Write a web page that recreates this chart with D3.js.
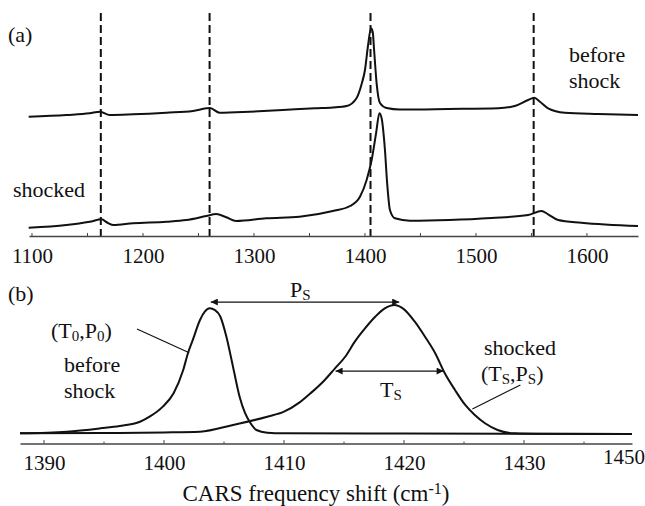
<!DOCTYPE html>
<html><head><meta charset="utf-8">
<script src="https://cdn.jsdelivr.net/npm/d3@7"></script>
</head>
<body style="margin:0">
<svg id="chart" width="645" height="506"></svg>
<script>
// ---------- Panel (a): wide-range CARS spectra ----------
const freqA_before = [1097,1131,1152,1161.3,1170,1191,1221,1245,1257,1260.4,1269,1296,1326,1355,1371,1383.5,1392.5,1397,1400,1402.7,1405.4,1407,1408.1,1410.5,1413.5,1419.5,1431.5,1475,1520,1535,1547,1552.5,1557.7,1565,1580,1610,1646];
const sigA_before  = [119.3,121,122.7,124.3,121,121.7,123.3,125,127.7,128,123.3,124.3,126,127.7,128.5,130,138,152,166,190,207.7,204,188,152.7,133,128,126.5,127,127.7,130,136,138.3,134.3,127.7,123.3,122,121];
const freqA_shocked = [1097,1131,1152,1162.8,1167,1173,1191,1221,1239,1257,1266,1275,1284,1311,1341,1371,1386.5,1395.5,1401.5,1406,1410,1413,1415,1418,1420,1422.5,1427,1440.5,1476,1514,1547,1559,1565,1574,1595,1646];
const sigA_shocked  = [8.3,11,14.3,16.7,14,11,12.7,14.3,16,20,22,18.7,15,17.7,19.3,25,30,39.3,56,76,102.7,122.7,117.7,86,52.7,26,17.7,15.3,16,18,21,25,21.7,16,13.3,10];
const dashedFreqs = [1162, 1260, 1405, 1552];
const ticksA = [1100, 1200, 1300, 1400, 1500, 1600];
const minorTicksA = [1150, 1250, 1350, 1450, 1550];

// ---------- Panel (b): N2 Q-branch detail ----------
const freqB_before = [1388,1391.9,1394.7,1396.3,1398,1398.8,1399.9,1400.8,1401.6,1402,1402.4,1403,1403.4,1403.8,1404.25,1404.7,1405.2,1405.75,1406.3,1406.75,1407.2,1407.7,1408.6,1410,1420,1439];
const intB_before  = [0.5,1.8,4.4,6.2,9.5,13.4,21.2,31.6,49.6,62.8,72.9,88.4,94.8,97.4,96.1,90.9,75.4,52.2,28.9,16.3,8.5,3.1,1.0,0.5,0.3,0];
const freqB_shocked = [1388,1395,1400,1403,1405.75,1408.6,1410,1411.3,1412.2,1413.4,1414.25,1415.1,1415.9,1416.75,1417.6,1418.4,1419.2,1419.9,1420.9,1421.75,1422.6,1423.4,1424.25,1425.1,1425.9,1426.75,1427.8,1429.25,1431,1439];
const intB_shocked  = [0.5,0.8,1.2,1.8,7.0,13.4,17.3,24.5,31.5,41.9,50.9,59.9,71.6,81.9,90.9,97.4,100,97.4,87.1,75.4,62.6,47.1,34.1,22.5,14.7,8.3,3.1,0.5,0.2,0];
const ticksB = [1390, 1400, 1410, 1420, 1430];
const tickLabelsB = ["1390", "1400", "1410", "1420", "1430"];
const minorTicksB = [1395, 1405, 1415, 1425, 1435];
const endLabelB = "1450";
// annotation arrows (data units)
const arrowPs = {from: 1403.9, to: 1419.6, level: 102.3};
const arrowTs = {from: 1414.3, to: 1423.3, level: 48.8};
const leaderBefore = [[1397.75, 81.4], [1402.1, 63.0]];
const leaderShocked = [[1429.7, 38.0], [1425.7, 19.4]];

const SERIF = "Liberation Serif";
const svg = d3.select("#chart");
const FS = 22;   // annotation size
const TS = 21;   // tick label size
const INK = "#111";

// defs: arrowheads
const defs = svg.append("defs");
function marker(id, orient){
  defs.append("marker").attr("id", id).attr("viewBox","0 0 10 10")
    .attr("refX", 10).attr("refY", 5).attr("markerWidth", 11).attr("markerHeight", 7)
    .attr("markerUnits","userSpaceOnUse").attr("orient", orient)
    .append("path").attr("d","M0,0 L10,5 L0,10 Z").attr("fill", INK);
}
marker("arrEnd","auto");
marker("arrStart","auto-start-reverse");

function txt(g, x, y, s, size){
  return g.append("text").attr("x", x).attr("y", y).attr("font-size", size || FS)
    .attr("font-family", SERIF).attr("fill", INK).text(s);
}

// ===== Panel (a) =====
const xA = d3.scaleLinear().domain([1097.3, 1646]).range([29, 638]);
const yA = d3.scaleLinear().domain([0, 216]).range([236, 20]);
const gA = svg.append("g");
const lineA = d3.line().x(d => xA(d[0])).y(d => yA(d[1])).curve(d3.curveMonotoneX);

gA.append("path").datum(d3.zip(freqA_before, sigA_before)).attr("d", lineA)
  .attr("fill","none").attr("stroke", INK).attr("stroke-width",2);
gA.append("path").datum(d3.zip(freqA_shocked, sigA_shocked)).attr("d", lineA)
  .attr("fill","none").attr("stroke", INK).attr("stroke-width",2);

gA.selectAll("line.dash").data(dashedFreqs).enter().append("line")
  .attr("x1", d => xA(d)).attr("x2", d => xA(d))
  .attr("y1", yA(223)).attr("y2", yA(0))
  .attr("stroke", INK).attr("stroke-width",2).attr("stroke-dasharray","8,4");

// axis (a)
const axA = d3.axisBottom(xA).tickValues(ticksA).tickSize(0).tickPadding(0).tickFormat(d3.format("d"));
const axAg = gA.append("g").attr("transform", `translate(0,${yA(0)})`).call(axA);
axAg.attr("font-family", SERIF).attr("font-size", TS);
axAg.select(".domain").attr("stroke","#444").attr("stroke-width",1.5);
axAg.selectAll("text").attr("font-size", TS).attr("fill", INK)
  .attr("font-family", SERIF).attr("dy", null).attr("y", 27);
gA.selectAll("line.mt").data(ticksA.concat(minorTicksA)).enter().append("line")
  .attr("x1", d => xA(d)).attr("x2", d => xA(d)).attr("y1", yA(0)).attr("y2", yA(0) - 3)
  .attr("stroke","#444").attr("stroke-width",1);

txt(gA, 8, 42, "(a)");
txt(gA, 13, 197, "shocked");
txt(gA, 569, 62, "before");
txt(gA, 569, 88, "shock");

// ===== Panel (b) =====
const xB = d3.scaleLinear().domain([1388, 1439]).range([20, 632]);
const yB = d3.scaleLinear().domain([0, 100]).range([434, 305]);
const gB = svg.append("g");
const lineB = d3.line().x(d => xB(d[0])).y(d => yB(d[1])).curve(d3.curveMonotoneX);

gB.append("path").datum(d3.zip(freqB_before, intB_before)).attr("d", lineB)
  .attr("fill","none").attr("stroke", INK).attr("stroke-width",2);
gB.append("path").datum(d3.zip(freqB_shocked, intB_shocked)).attr("d", lineB)
  .attr("fill","none").attr("stroke", INK).attr("stroke-width",2);

const axisYB = 443.5;
const axB = d3.axisBottom(xB).tickValues(ticksB).tickSize(0).tickPadding(0)
  .tickFormat((d,i) => tickLabelsB[i]);
const axBg = gB.append("g").attr("transform", `translate(0,${axisYB})`).call(axB);
axBg.attr("font-family", SERIF).attr("font-size", TS);
axBg.select(".domain").attr("stroke","#444").attr("stroke-width",1.5);
axBg.selectAll("text").attr("font-size", TS).attr("fill", INK)
  .attr("font-family", SERIF).attr("dy", null).attr("y", 26);
gB.selectAll("line.mjt").data(ticksB).enter().append("line")
  .attr("x1", d => xB(d)).attr("x2", d => xB(d)).attr("y1", axisYB).attr("y2", axisYB - 3.5)
  .attr("stroke","#444").attr("stroke-width",1);
gB.selectAll("line.mnt").data(minorTicksB).enter().append("line")
  .attr("x1", d => xB(d)).attr("x2", d => xB(d)).attr("y1", axisYB).attr("y2", axisYB - 2)
  .attr("stroke","#444").attr("stroke-width",1);
txt(gB, xB(xB.domain()[1]) - 8, axisYB + 20, endLabelB, TS).attr("text-anchor","middle");

// arrows
[arrowPs, arrowTs].forEach(a => {
  gB.append("line").attr("x1", xB(a.from)).attr("x2", xB(a.to))
    .attr("y1", yB(a.level)).attr("y2", yB(a.level))
    .attr("stroke", INK).attr("stroke-width",1.3)
    .attr("marker-start","url(#arrStart)").attr("marker-end","url(#arrEnd)");
});
// leader lines
[leaderBefore, leaderShocked].forEach(l => {
  gB.append("line").attr("x1", xB(l[0][0])).attr("y1", yB(l[0][1]))
    .attr("x2", xB(l[1][0])).attr("y2", yB(l[1][1]))
    .attr("stroke", INK).attr("stroke-width",1.2);
});

// text with subscripts
function subText(g, x, y, parts){
  const t = g.append("text").attr("x", x).attr("y", y).attr("font-size", FS)
    .attr("font-family", SERIF).attr("fill", INK);
  let shifted = false;
  parts.forEach(p => {
    const ts = t.append("tspan").text(p.t);
    if (p.sub) { ts.attr("font-size", 15).attr("dy", 3); shifted = true; }
    else if (shifted) { ts.attr("dy", -3); shifted = false; }
  });
  return t;
}
txt(gB, 8, 301, "(b)");
subText(gB, 51, 338, [{t:"(T"},{t:"0",sub:true},{t:",P"},{t:"0",sub:true},{t:")"}]);
txt(gB, 64, 372, "before");
txt(gB, 64, 398, "shock");
subText(gB, 290, 297, [{t:"P"},{t:"S",sub:true}]);
subText(gB, 380, 397, [{t:"T"},{t:"S",sub:true}]);
txt(gB, 484, 355, "shocked");
subText(gB, 481, 381, [{t:"(T"},{t:"S",sub:true},{t:",P"},{t:"S",sub:true},{t:")"}]);

// x-axis title
const title = gB.append("text").attr("x", 316).attr("y", 501).attr("text-anchor","middle")
  .attr("font-size", 23).attr("font-family", SERIF).attr("fill", INK);
title.append("tspan").text("CARS frequency shift (cm");
title.append("tspan").attr("font-size", 16).attr("dy", -7).text("-1");
title.append("tspan").attr("dy", 7).text(")");

svg.selectAll("text").style("font-family", "Liberation Serif, serif", "important");
</script>
</body></html>
